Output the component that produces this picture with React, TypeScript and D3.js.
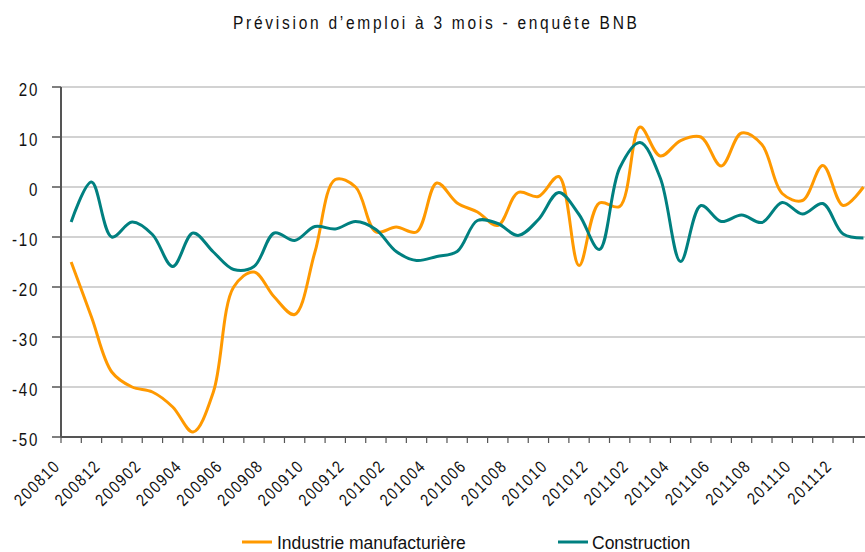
import React, { useEffect, useRef } from 'react';
import * as d3 from 'd3';

// months shown on the category axis
const months = [
  '200810', '200811', '200812', '200901', '200902', '200903', '200904', '200905',
  '200906', '200907', '200908', '200909', '200910', '200911', '200912', '201001',
  '201002', '201003', '201004', '201005', '201006', '201007', '201008', '201009',
  '201010', '201011', '201012', '201101', '201102', '201103', '201104', '201105',
  '201106', '201107', '201108', '201109', '201110', '201111', '201112', '201201',
];

// Industrie manufacturière
const industrie = [
  -15, -26, -37, -40, -41, -44, -49, -41, -20, -17,
  -22, -25.5, -13, 1.5, 0, -9, -8, -9, 0.8, -3.2,
  -5, -7.7, -1.1, -1.9, 2.1, -15.7, -3.2, -3.9, 12, 6.2,
  9.3, 10, 4.2, 10.8, 8.5, -1.3, -2.7, 4.3, -3.7, 0,
];

// Construction
const construction = [
  -7, 1, -10, -7, -9.5, -15.9, -9.2, -13, -16.5, -15.9,
  -9.2, -10.7, -7.9, -8.4, -6.9, -8.5, -12.9, -14.7, -13.9, -12.9,
  -6.7, -7.3, -9.7, -6.5, -1.1, -5.5, -12.5, 3.8, 8.9, 1.8,
  -14.9, -3.7, -6.9, -5.6, -7.1, -3.1, -5.4, -3.3, -9.4, -10.2,
];

const yTicks = [20, 10, 0, -10, -20, -30, -40, -50];

const series = [
  { name: 'Industrie manufacturière', values: industrie, color: '#FF9900' },
  { name: 'Construction', values: construction, color: '#008080' },
];

const W = 865;
const H = 552;

const App: React.FC = () => {
  const svgRef = useRef<SVGSVGElement>(null);

  useEffect(() => {
    if (!svgRef.current) return;
    const svg = d3.select(svgRef.current);
    svg.selectAll('*').remove();

    const left = 61;
    const step = 20.315;
    const x = d3.scaleBand<string>()
      .domain(months)
      .range([left, left + months.length * step])
      .paddingInner(0)
      .paddingOuter(0);
    const cx = (m: string) => (x(m) || 0) + x.bandwidth() / 2;

    const y = d3.scaleLinear().domain([-50, 20]).range([437, 87]);

    const font = '"Liberation Sans", Arial, sans-serif';
    const squeeze = 0.84; // fake a narrow face

    // title
    svg.append('text')
      .attr('transform', `translate(435,29) scale(${squeeze},1)`)
      .attr('text-anchor', 'middle')
      .attr('font-family', font)
      .attr('font-size', 18.5)
      .attr('textLength', 404 / squeeze)
      .attr('lengthAdjust', 'spacing')
      .attr('fill', '#111')
      .text('Prévision d\u2019emploi à 3 mois - enquête BNB');

    // gridlines
    svg.append('g')
      .selectAll('line')
      .data(yTicks.filter(t => t !== -50))
      .join('line')
      .attr('x1', left)
      .attr('x2', W)
      .attr('y1', d => y(d))
      .attr('y2', d => y(d))
      .attr('stroke', '#a6a6a6')
      .attr('stroke-width', 1.2);

    // y axis
    const ya = svg.append('g');
    ya.append('line')
      .attr('x1', left).attr('x2', left)
      .attr('y1', y(20)).attr('y2', y(-50))
      .attr('stroke', '#555').attr('stroke-width', 2);
    ya.selectAll('line.tick')
      .data(yTicks)
      .join('line')
      .attr('class', 'tick')
      .attr('x1', left - 9).attr('x2', left)
      .attr('y1', d => y(d)).attr('y2', d => y(d))
      .attr('stroke', '#555').attr('stroke-width', 1.5);
    ya.selectAll('text')
      .data(yTicks)
      .join('text')
      .attr('transform', d => `translate(39,${y(d) + 8.8}) scale(${squeeze},1)`)
      .attr('text-anchor', 'end')
      .attr('font-family', font)
      .attr('font-size', 18)
      .attr('letter-spacing', 2)
      .attr('fill', '#111')
      .text(d => String(d));

    // x axis
    const xa = svg.append('g');
    xa.append('line')
      .attr('x1', left).attr('x2', W)
      .attr('y1', y(-50)).attr('y2', y(-50))
      .attr('stroke', '#555').attr('stroke-width', 2);
    xa.selectAll('line.tick')
      .data(d3.range(months.length + 1))
      .join('line')
      .attr('class', 'tick')
      .attr('x1', i => left + i * step).attr('x2', i => left + i * step)
      .attr('y1', y(-50)).attr('y2', y(-50) + 6)
      .attr('stroke', '#555').attr('stroke-width', 1.2);
    // rotated month labels: outer group rotates, inner one squeezes
    const xl = xa.selectAll('g.lab')
      .data(months.filter((_, i) => i % 2 === 0))
      .join('g')
      .attr('class', 'lab')
      .attr('transform', m => `translate(${cx(m) - 10},467) rotate(-45)`);
    xl.append('text')
      .attr('transform', `scale(${squeeze},1)`)
      .attr('text-anchor', 'end')
      .attr('font-family', font)
      .attr('font-size', 17)
      .attr('letter-spacing', 1.8)
      .attr('fill', '#111')
      .text(m => m);

    // lines
    const line = d3.line<number>()
      .x((_, i) => cx(months[i]))
      .y(d => y(d))
      .curve(d3.curveCatmullRom.alpha(0.5));

    svg.append('g')
      .selectAll('path')
      .data(series)
      .join('path')
      .attr('d', s => line(s.values))
      .attr('fill', 'none')
      .attr('stroke', s => s.color)
      .attr('stroke-width', 3);

    // legend
    const legendPos = [
      { lx: 242, tx: 277 },
      { lx: 558, tx: 592 },
    ];
    const lg = svg.append('g');
    series.forEach((s, i) => {
      const p = legendPos[i];
      lg.append('line')
        .attr('x1', p.lx).attr('x2', p.lx + 30)
        .attr('y1', 542).attr('y2', 542)
        .attr('stroke', s.color).attr('stroke-width', 3);
      lg.append('text')
        .attr('x', p.tx)
        .attr('y', 549)
        .attr('font-family', font)
        .attr('font-size', 17.5)
        .attr('fill', '#111')
        .text(s.name);
    });
  }, []);

  return (
    <svg
      ref={svgRef}
      width={W}
      height={H}
      style={{ position: 'absolute', left: 0, top: 0, background: '#fff' }}
    />
  );
};

export default App;
